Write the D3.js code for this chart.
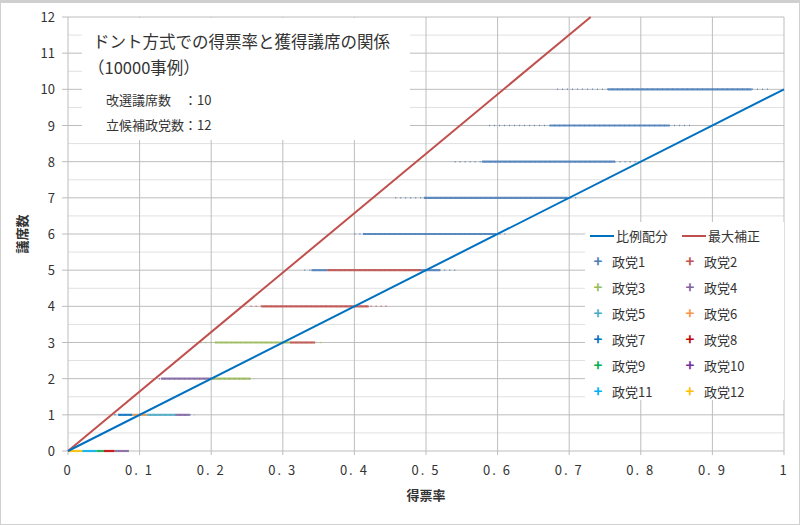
<!DOCTYPE html>
<html><head><meta charset="utf-8">
<script src="https://cdn.jsdelivr.net/npm/d3@7"></script>
<style>body{margin:0;background:#fff}text{font-family:"Noto Sans CJK JP","Noto Sans",sans-serif;fill:#333}</style>
</head><body><div id="chart-area"></div>
<script>
var width = 800, height = 525;

// party colors (政党1..12)
var parties = ["政党1","政党2","政党3","政党4","政党5","政党6","政党7","政党8","政党9","政党10","政党11","政党12"];
var partyColors = ["#4a7ebb","#c0504d","#9bbb59","#8064a2","#4bacc6","#f79646","#0070c0","#c00000","#00b050","#7030a0","#00b0f0","#ffc000"];

// lines
var propLine = [[0,0],[1,10]];
var maxLine = [[0,0],[0.73,12]];

// seat bands: seats, full range (sparse) and dense segments [x0, x1, party index]
var seats  = [0,1,2,3,4,5,6,7,8,9,10];
var bandMin = [0,0.065,0.127,0.185,0.255,0.33,0.40,0.457,0.54,0.588,0.683];
var bandMax = [0.09,0.177,0.26,0.356,0.447,0.543,0.616,0.71,0.80,0.87,0.98];
var segments = [
  [[0,0.02,11],[0.02,0.04,10],[0.04,0.05,8],[0.05,0.065,7],[0.065,0.085,3]],
  [[0.07,0.09,6],[0.09,0.11,5],[0.11,0.15,4],[0.15,0.17,3]],
  [[0.13,0.2,3],[0.2,0.255,2]],
  [[0.205,0.31,2],[0.31,0.345,1]],
  [[0.27,0.42,1]],
  [[0.34,0.362,0],[0.362,0.493,1],[0.493,0.52,0]],
  [[0.412,0.598,0]],
  [[0.497,0.698,0]],
  [[0.578,0.764,0]],
  [[0.673,0.84,0]],
  [[0.754,0.955,0]]
];

var xTicks = [0,0.1,0.2,0.3,0.4,0.5,0.6,0.7,0.8,0.9,1];
var yTicks = [0,1,2,3,4,5,6,7,8,9,10,11,12];

var svg = d3.select("#chart-area").append("svg").attr("width", width).attr("height", height);
svg.append("rect").attr("x",0.5).attr("y",0.5).attr("width",width-1).attr("height",height-1)
  .attr("fill","#fff").attr("stroke","#d0d0d0");
svg.append("rect").attr("x",0).attr("y",0).attr("width",width).attr("height",3).attr("fill","#cfcfcf");

var x = d3.scaleLinear().domain([0,1]).range([68,784]);
var y = d3.scaleLinear().domain([0,12]).range([451,17]);

// grid
svg.append("g").selectAll("line").data(d3.range(0.5,12,1)).enter().append("line")
  .attr("x1",x(0)).attr("x2",x(1)).attr("y1",d=>y(d)).attr("y2",d=>y(d)).attr("stroke","#e0e0e0");
svg.append("g").selectAll("line").data(yTicks).enter().append("line")
  .attr("x1",x(0)-6).attr("x2",x(1)).attr("y1",d=>y(d)).attr("y2",d=>y(d)).attr("stroke","#bdbdbd");
svg.append("g").selectAll("line").data(xTicks).enter().append("line")
  .attr("x1",d=>x(d)).attr("x2",d=>x(d)).attr("y1",y(12)).attr("y2",y(0)+4).attr("stroke","#bdbdbd");

// title box
svg.append("rect").attr("x",82).attr("y",18).attr("width",328).attr("height",122).attr("fill","#fff");
svg.append("text").attr("x",93).attr("y",48).attr("font-size",16.5).text("ドント方式での得票率と獲得議席の関係");
svg.append("text").attr("x",88).attr("y",74).attr("font-size",16.5).text("（10000事例）");
svg.append("text").attr("x",106).attr("y",105).attr("font-size",13).text("改選議席数　：10");
svg.append("text").attr("x",106).attr("y",130).attr("font-size",13).text("立候補政党数：12");

// axes labels
svg.append("g").selectAll("text").data(yTicks).enter().append("text")
  .attr("x",55).attr("y",d=>y(d)+5).attr("text-anchor","end").attr("font-size",13).text(d=>d);
svg.append("g").selectAll("text").data(xTicks).enter().append("text")
  .attr("x",d=>x(d)).attr("y",475).attr("text-anchor","middle").attr("font-size",13)
  .attr("letter-spacing",2).text(d=>d3.format("~g")(d).replace(".", ". "));
svg.append("text").attr("x",x(0.5)).attr("y",500).attr("text-anchor","middle").attr("font-size",13)
  .attr("font-weight","bold").text("得票率");
svg.append("text").attr("transform","translate(27,"+y(6)+") rotate(-90)").attr("text-anchor","middle")
  .attr("font-size",13).attr("font-weight","bold").text("議席数");

// bands: sparse range then dense segments
svg.append("g").selectAll("line").data(seats).enter().append("line")
  .attr("x1",(d,i)=>x(bandMin[i])).attr("x2",(d,i)=>x(bandMax[i]))
  .attr("y1",d=>y(d)).attr("y2",d=>y(d))
  .attr("stroke",(d,i)=>partyColors[segments[i][0][2]]).attr("stroke-width",1.5)
  .attr("stroke-dasharray","1,4").attr("opacity",0.8);
seats.forEach(function(s,i){
  svg.append("g").selectAll("line").data(segments[i]).enter().append("line")
    .attr("x1",d=>x(d[0])).attr("x2",d=>x(d[1])).attr("y1",y(s)).attr("y2",y(s))
    .attr("stroke",d=>partyColors[d[2]]).attr("stroke-width",2.2).attr("opacity",0.85);
});

var line = d3.line().x(d=>x(d[0])).y(d=>y(d[1]));
svg.append("path").datum(maxLine).attr("d",line).attr("stroke","#c0504d").attr("stroke-width",2).attr("fill","none");
svg.append("path").datum(propLine).attr("d",line).attr("stroke","#0070c0").attr("stroke-width",2).attr("fill","none");

// legend
var lg = svg.append("g");
lg.append("rect").attr("x",585).attr("y",222).attr("width",199).attr("height",178).attr("fill","#fff");
var lines = [["比例配分","#0070c0"],["最大補正","#c0504d"]];
lines.forEach(function(l,i){
  var lx = 590 + i*92;
  lg.append("line").attr("x1",lx).attr("x2",lx+24).attr("y1",236).attr("y2",236).attr("stroke",l[1]).attr("stroke-width",2);
  lg.append("text").attr("x",lx+26).attr("y",241).attr("font-size",13).text(l[0]);
});
parties.forEach(function(p,i){
  var lx = 598 + (i%2)*92, ly = 262 + Math.floor(i/2)*26;
  lg.append("text").attr("x",lx).attr("y",ly+5).attr("text-anchor","middle").attr("font-size",15)
    .attr("font-weight","bold").style("fill",partyColors[i]).text("+");
  lg.append("text").attr("x",lx+14).attr("y",ly+5).attr("font-size",13).text(p);
});
</script></body></html>
